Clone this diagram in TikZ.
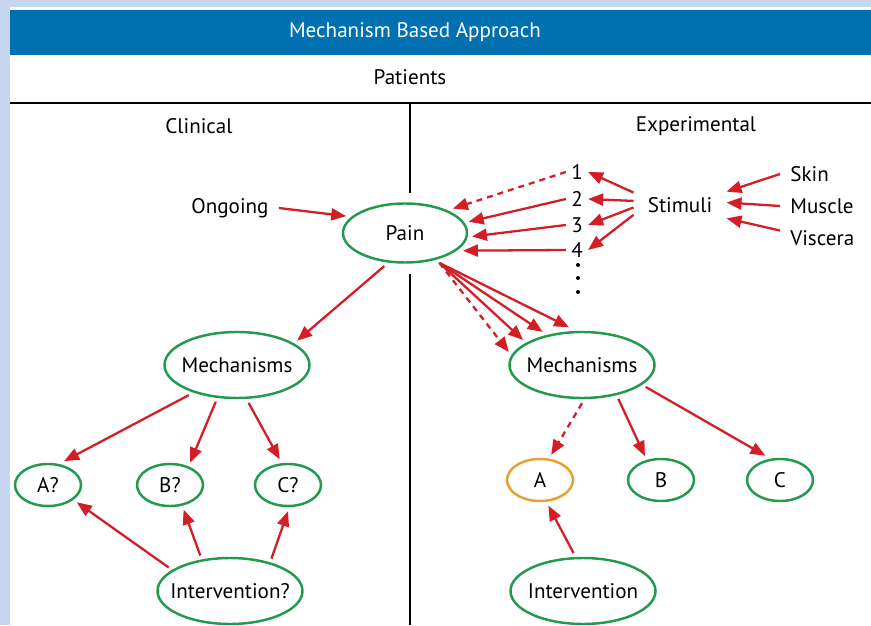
\documentclass[tikz,border=0pt]{standalone}
\usepackage{fontspec}
\setmainfont{PT Sans}
\usetikzlibrary{shapes.geometric,arrows.meta}
\definecolor{bluebar}{RGB}{0,112,176}
\definecolor{framebg}{RGB}{198,214,238}
\definecolor{ovalgreen}{RGB}{34,154,78}
\definecolor{arrowred}{RGB}{212,30,38}
\definecolor{ovalorange}{RGB}{232,160,50}

\begin{document}
\begin{tikzpicture}[
    font=\fontsize{12}{14}\selectfont,
    oval/.style={ellipse, draw=ovalgreen, line width=1.4pt, inner sep=0pt, outer sep=3pt},
    bigoval/.style={oval, inner xsep=-0.2cm, minimum width=2.9cm, minimum height=1.32cm},
    smalloval/.style={oval, minimum width=1.32cm, minimum height=0.84cm},
    redarrow/.style={draw=arrowred, line width=1.3pt, -{Triangle[length=0.3cm,width=0.24cm]}},
    dashedarrow/.style={redarrow, dash pattern=on 0.12cm off 0.1cm},
    word/.style={inner sep=0.2cm}
]
    \clip (0,0) rectangle (17.42,12.5);
    % background frame
    \fill[framebg] (0,0) rectangle (17.42,12.5);
    \fill[white] (0.2,0) rectangle (17.42,12.36);
    % title bar
    \fill[bluebar] (0.2,11.4) rectangle (17.42,12.3);
    \node[text=white] (title) at (8.3,11.86) {Mechanism Based Approach};
    \node (patients) at (8.2,10.96) {Patients};
    % dividing lines
    \draw[line width=1.4pt] (0.2,10.44) -- (17.42,10.44);
    \draw[line width=1.3pt] (8.2,10.44) -- (8.2,8.64);
    \draw[line width=1.3pt] (8.2,7.02) -- (8.2,0);
    \node (clinical) at (3.98,9.98) {Clinical};
    \node (experimental) at (13.92,9.98) {Experimental};

    % pain and its inputs
    \node[oval, minimum width=2.48cm, minimum height=1.18cm] (pain) at (8.1,7.84) {Pain};
    \node[word] (ongoing) at (4.6,8.34) {Ongoing};
    \node[inner sep=0.1cm] (n1) at (11.54,9.06) {1};
    \node[inner sep=0.1cm] (n2) at (11.54,8.52) {2};
    \node[inner sep=0.1cm] (n3) at (11.54,8.0) {3};
    \node[inner sep=0.1cm] (n4) at (11.54,7.5) {4};
    \foreach \y in {7.2,6.94,6.66}
        \fill (11.56,\y) circle (0.04);
    \node[inner sep=0.28cm] (stimuli) at (13.6,8.4) {Stimuli};
    \node[word, anchor=west] (skin) at (15.6,9.02) {Skin};
    \node[word, anchor=west] (muscle) at (15.6,8.38) {Muscle};
    \node[word, anchor=west] (viscera) at (15.6,7.74) {Viscera};

    % clinical side
    \node[bigoval] (mechL) at (4.74,5.2) {Mechanisms};
    \node[smalloval] (Aq) at (0.96,2.8) {A?};
    \node[smalloval] (Bq) at (3.4,2.8) {B?};
    \node[smalloval] (Cq) at (5.76,2.8) {C?};
    \node[bigoval] (interL) at (4.6,0.68) {Intervention?};

    % experimental side
    \node[bigoval] (mechR) at (11.64,5.2) {Mechanisms};
    \node[smalloval, draw=ovalorange] (A) at (10.8,2.9) {A};
    \node[smalloval] (B) at (13.22,2.9) {B};
    \node[smalloval] (C) at (15.6,2.9) {C};
    \node[bigoval] (interR) at (11.66,0.68) {Intervention};

    % arrows into pain
    \draw[redarrow] (ongoing.east) -- (pain.164);
    \draw[dashedarrow] (n1.west) -- (pain.27);
    \draw[redarrow] (n2.west) -- (pain.10);
    \draw[redarrow] (n3.west) -- (pain.-3);
    \draw[redarrow] (n4.west) -- (pain.-17);
    \draw[redarrow] (stimuli.165) -- (n1.east);
    \draw[redarrow] (stimuli.175) -- (n2.east);
    \draw[redarrow] (stimuli.183) -- (n3.east);
    \draw[redarrow] (stimuli.192) -- (n4.east);
    \draw[redarrow] (skin.west) -- (stimuli.16);
    \draw[redarrow] (muscle.west) -- (stimuli.3);
    \draw[redarrow] (viscera.170) -- (stimuli.-16);

    % pain to mechanisms
    \draw[redarrow] (pain.-122) -- (mechL.22);
    \draw[dashedarrow] (pain.-41) -- (mechR.170);
    \foreach \a in {157,140,109}
        \draw[redarrow] (pain.-41) -- (mechR.\a);

    % clinical branches
    \draw[redarrow] (mechL.212) -- (Aq.56);
    \draw[redarrow] (mechL.240) -- (Bq.48);
    \draw[redarrow] (mechL.-73) -- (Cq.108);
    \draw[redarrow] (interL.159) -- (Aq.-31);
    \draw[redarrow] (interL.130) -- (Bq.-61);
    \draw[redarrow] (interL.38) -- (Cq.-90);

    % experimental branches
    \draw[dashedarrow] (mechR.-90) -- (A.66);
    \draw[redarrow] (mechR.-43) -- (B.124);
    \draw[redarrow] (mechR.-19.5) -- (C.121);
    \draw[redarrow] (interR.104) -- (A.-72);
\end{tikzpicture}
\end{document}
